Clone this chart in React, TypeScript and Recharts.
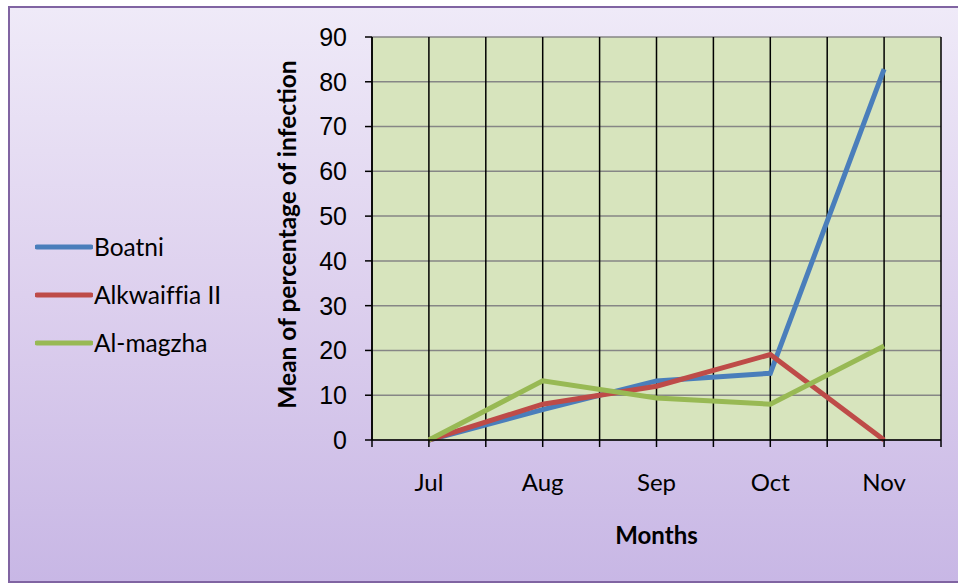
import React from "react";
import { LineChart, Line, XAxis, YAxis, CartesianGrid, Label } from "recharts";

const months = ["Jul", "Aug", "Sep", "Oct", "Nov"];
const boatni = [0, 6.8, 13.2, 14.9, 82.8];
const alkwaiffia = [0, 8.0, 12.0, 19.1, 0];
const almagzha = [0, 13.2, 9.4, 8.0, 21.0];
const yTicks = [0, 10, 20, 30, 40, 50, 60, 70, 80, 90];
const seriesNames = ["Boatni", "Alkwaiffia II", "Al-magzha"];
const seriesColors = ["#4a7ebb", "#be4b48", "#98b954"];
const seriesValues = [boatni, alkwaiffia, almagzha];

const data = months.map((m, i) => {
  const row: any = { x: i, month: m };
  seriesNames.forEach((n, k) => (row[n] = seriesValues[k][i]));
  return row;
});

const xTicks: number[] = [];
for (let i = 0; i <= 10; i++) xTicks.push(-0.5 + i * 0.5);

const SANS = "Lato, 'Open Sans', sans-serif";

const XTick = (props: any) => {
  const { x, y, payload } = props;
  const v = payload.value;
  if (!Number.isInteger(v) || v < 0 || v >= months.length) return null;
  return (
    <text x={x} y={y} dy={42} textAnchor="middle" fontSize={24} fontFamily={SANS} fill="#000">
      {months[v]}
    </text>
  );
};

export default function App() {
  return (
    <div style={{ position: "fixed", left: 0, top: 0, width: 958, height: 584, overflow: "hidden" }}>
      <div
        style={{
          position: "absolute",
          left: 8,
          top: 6,
          width: 965,
          height: 577,
          boxSizing: "border-box",
          border: "2px solid #8064a2",
          background: "linear-gradient(to bottom, #efeaf8 0%, #ddd0ee 50%, #c8b7e5 100%)",
        }}
      />
      <div style={{ position: "absolute", left: 35, top: 223, width: 240 }}>
        {seriesNames.map((n, k) => (
          <div key={n} style={{ display: "flex", alignItems: "center", height: 48 }}>
            <svg width={58} height={8} style={{ display: "block" }}>
              <line x1={2} y1={4} x2={56} y2={4} stroke={seriesColors[k]} strokeWidth={5} strokeLinecap="round" />
            </svg>
            <span
              style={{
                fontFamily: SANS,
                fontSize: 24.5,
                color: "#000",
                marginLeft: 1,
                lineHeight: "24px",
                fontVariantLigatures: "none",
              }}
            >
              {n}
            </span>
          </div>
        ))}
      </div>
      <div style={{ position: "absolute", left: 0, top: 0 }}>
        <LineChart
          width={958}
          height={584}
          data={data}
          margin={{ top: 37, right: 17, bottom: 0, left: 0 }}
        >
          <CartesianGrid fill="#d7e4bd" vertical={false} stroke="#868686" strokeWidth={1.5} strokeOpacity={1} />
          <CartesianGrid horizontal={false} stroke="#000" strokeWidth={1.5} fill="none" />
          <XAxis
            dataKey="x"
            type="number"
            domain={[-0.5, 4.5]}
            ticks={xTicks}
            interval={0}
            allowDataOverflow
            tick={<XTick />}
            tickSize={7}
            tickLine={{ stroke: "#000", strokeWidth: 1.5 }}
            axisLine={{ stroke: "#000", strokeWidth: 1.5 }}
            height={144}
          >
            <Label
              content={(p: any) => {
                const vb = p.viewBox;
                const cx = vb.x + vb.width / 2;
                return (
                  <text
                    x={cx}
                    y={vb.y + 94}
                    textAnchor="middle"
                    dominantBaseline="central"
                    fontFamily={SANS}
                    fontSize={24}
                    fontWeight={700}
                    fill="#000"
                  >
                    Months
                  </text>
                );
              }}
            />
          </XAxis>
          <YAxis
            type="number"
            domain={[0, 90]}
            ticks={yTicks}
            interval={0}
            width={372}
            tickSize={7}
            tickMargin={18}
            tick={{ fontFamily: "'Liberation Sans', Arial, sans-serif", fontSize: 25, fill: "#000" }}
            tickLine={{ stroke: "#000", strokeWidth: 1.5 }}
            axisLine={{ stroke: "#000", strokeWidth: 1.5 }}
          >
            <Label
              content={(p: any) => {
                const vb = p.viewBox;
                const cy = vb.y + vb.height / 2 - 4;
                return (
                  <text
                    x={286}
                    y={cy}
                    transform={`rotate(-90, 286, ${cy})`}
                    textAnchor="middle"
                    dominantBaseline="central"
                    fontFamily={SANS}
                    fontSize={24.5}
                    fontWeight={700}
                    fill="#000"
                  >
                    Mean of percentage of infection
                  </text>
                );
              }}
            />
          </YAxis>
          {seriesNames.map((n, k) => (
            <Line
              key={n}
              type="linear"
              dataKey={n}
              stroke={seriesColors[k]}
              strokeWidth={5}
              dot={false}
              isAnimationActive={false}
            />
          ))}
        </LineChart>
      </div>
    </div>
  );
}
